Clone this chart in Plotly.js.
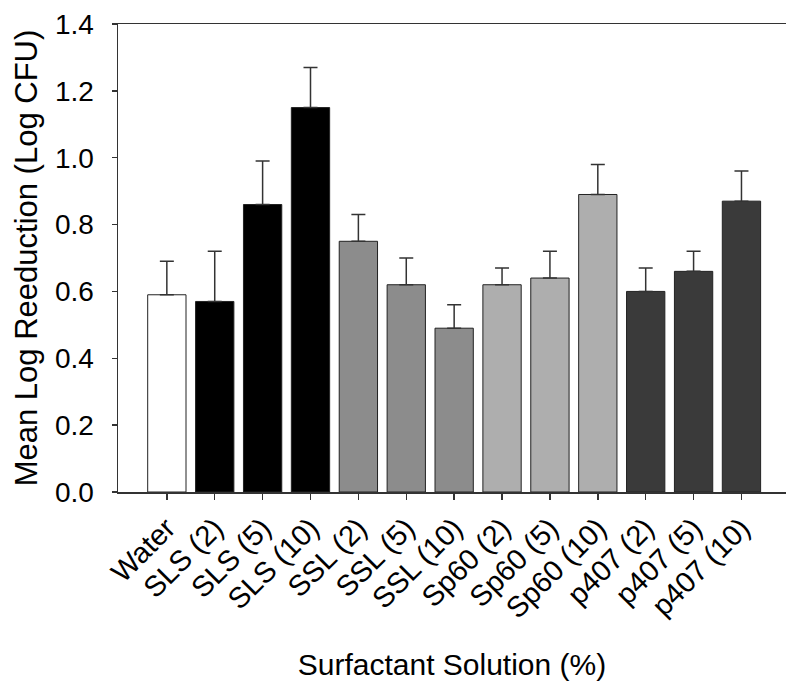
<!DOCTYPE html>
<html>
<head>
<meta charset="utf-8">
<script src="https://cdn.plot.ly/plotly-3.0.1.min.js"></script>
<style>html,body{margin:0;padding:0;background:#fff;}#chart{width:786px;height:681px;}</style>
</head>
<body>
<div id="chart"></div>
<script>
const categories = ["Water", "SLS (2)", "SLS (5)", "SLS (10)", "SSL (2)", "SSL (5)", "SSL (10)",
  "Sp60 (2)", "Sp60 (5)", "Sp60 (10)", "p407 (2)", "p407 (5)", "p407 (10)"];
const meanLogReduction = [0.59, 0.57, 0.86, 1.15, 0.75, 0.62, 0.49, 0.62, 0.64, 0.89, 0.60, 0.66, 0.87];
const errorUpper = [0.10, 0.15, 0.13, 0.12, 0.08, 0.08, 0.07, 0.05, 0.08, 0.09, 0.07, 0.06, 0.09];
const barColors = ["#ffffff", "#000000", "#000000", "#000000", "#8c8c8c", "#8c8c8c", "#8c8c8c",
  "#aeaeae", "#aeaeae", "#aeaeae", "#3a3a3a", "#3a3a3a", "#3a3a3a"];
const yTickValues = [0, 0.2, 0.4, 0.6, 0.8, 1.0, 1.2, 1.4];
const yTickLabels = ["0.0", "0.2", "0.4", "0.6", "0.8", "1.0", "1.2", "1.4"];

const font = "Liberation Sans, Arial, sans-serif";

const trace = {
  type: "bar",
  x: categories.map((c, i) => i),
  y: meanLogReduction,
  width: 0.8,
  marker: { color: barColors, line: { color: "#222222", width: 1 } },
  error_y: {
    type: "data", symmetric: false, array: errorUpper,
    arrayminus: errorUpper.map(() => 0),
    color: "#333333", thickness: 1.5, width: 7
  },
  hoverinfo: "x+y"
};

const layout = {
  width: 786, height: 681,
  margin: { l: 118, r: 0, t: 24, b: 189 },
  paper_bgcolor: "#ffffff", plot_bgcolor: "#ffffff",
  showlegend: false,
  font: { family: font, color: "#000000" },
  xaxis: {
    range: [-1.02, 12.93],
    tickmode: "array",
    tickvals: categories.map((c, i) => i),
    ticktext: categories,
    tickangle: -45,
    tickfont: { size: 29, family: font, color: "#000000" },
    ticks: "outside", ticklen: 6, tickwidth: 1.5, tickcolor: "#333333",
    showline: true, linecolor: "#333333", linewidth: 1.5, mirror: true,
    showgrid: false, zeroline: false,
    title: { text: "Surfactant Solution (%)", font: { size: 30, family: font, color: "#000000" }, standoff: 30 }
  },
  yaxis: {
    range: [0, 1.4],
    tickmode: "array",
    tickvals: yTickValues,
    ticktext: yTickLabels,
    tickfont: { size: 28, family: font, color: "#000000" },
    ticks: "outside", ticklen: 5, tickwidth: 1.5, tickcolor: "#333333",
    ticklabelstandoff: 12,
    showline: true, linecolor: "#333333", linewidth: 1.5,
    showgrid: false, zeroline: false,
    title: { text: "Mean Log Reeduction (Log CFU)", font: { size: 31, family: font, color: "#000000" }, standoff: 8 }
  }
};

Plotly.newPlot("chart", [trace], layout, { displayModeBar: false, staticPlot: true });
</script>
</body>
</html>
